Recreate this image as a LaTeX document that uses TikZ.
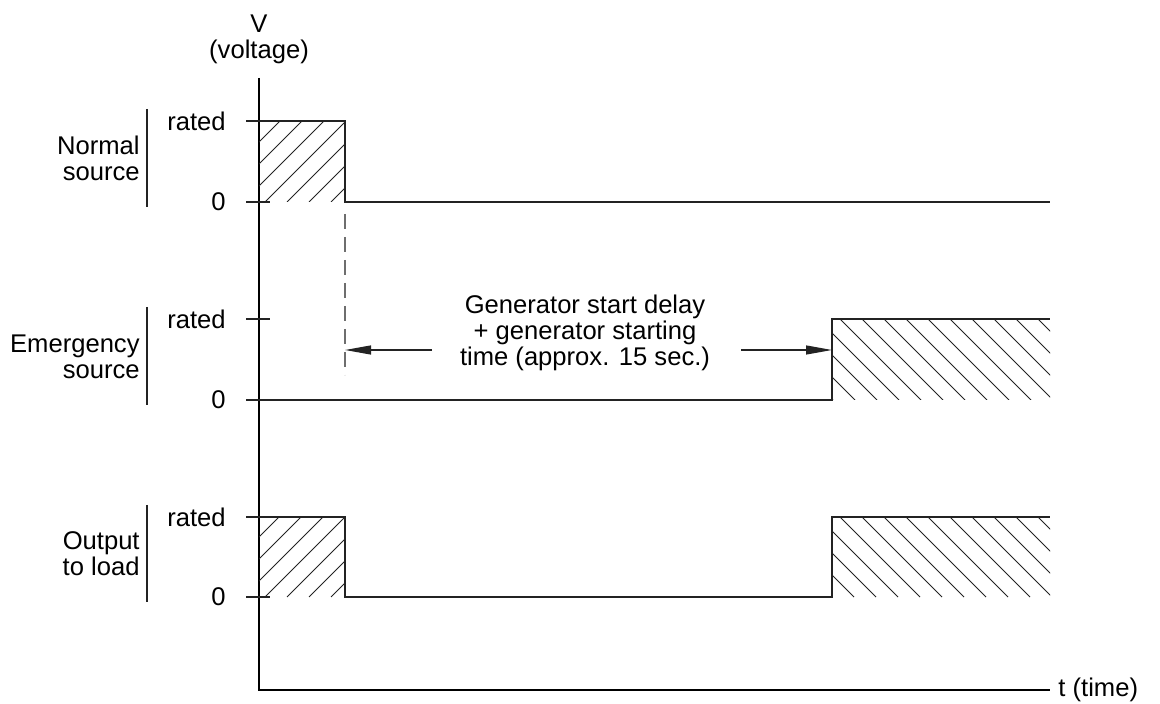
\documentclass[tikz,border=0pt]{standalone}
\usepackage{fontspec}
\setmainfont{Liberation Sans}
\usetikzlibrary{positioning,arrows.meta,calc}
\definecolor{tdLine}{RGB}{35,35,35}
\definecolor{tdDash}{RGB}{110,110,110}
\tikzset{
    base/.style={font=\fontsize{12.8}{13}\selectfont, align=center, inner sep=0pt},
    levellabel/.style={base, anchor=east},
    sourcelabel/.style={base, align=right, anchor=east},
    axis/.style={line width=0.6pt, color=black},
    signal/.style={line width=0.75pt, color=tdLine},
    hatch/.style={line width=0.45pt, color=tdLine},
    bracket/.style={line width=0.6pt, color=tdLine},
    guide/.style={line width=0.75pt, color=tdDash, dash pattern=on 7.5pt off 4pt},
    delay/.style={-{Triangle[length=13pt,width=4.5pt]}, line width=0.6pt, color=tdLine}
}

\begin{document}
\begin{tikzpicture}[x=0.5pt, y=-0.5pt, line cap=butt]
    \useasboundingbox (0,0) rectangle (1160,704);

    % Axes
    \coordinate (O) at (259,690);
    \coordinate (Vtop) at (259,78);
    \coordinate (Tend) at (1050,690);
    \draw[axis] (Vtop) -- (O) -- (Tend);
    \node[base] (vlabel) at (259,39) {V\\(voltage)};
    \node[base, anchor=west] (tlabel) at (1058,690) {t (time)};

    % Rows: labels, levels and brackets
    \foreach \row/\rated/\zero/\txt in {normal/121/202/{Normal\\source},
                                       emerg/319/400/{Emergency\\source},
                                       output/517/597/{Output\\to load}} {
        \node[levellabel] (\row-rated) at (226,\rated) {rated};
        \node[levellabel] (\row-zero) at (226,\zero) {0};
        \draw[bracket] (147,\rated-12) -- (147,\zero+5);
        \node[sourcelabel] (\row-name) at (140,{(\rated+\zero)/2-3}) {\txt};
        \draw[signal] (246,\rated) -- (270,\rated);
        \draw[signal] (246,\zero) -- (270,\zero);
    }

    % Normal source
    \draw[signal] (246,121) -- (345,121) -- (345,202) -- (1050,202);
    \begin{scope}
        \clip (259,121) rectangle (345,202);
        \foreach \k in {-3,...,3}
            \draw[hatch] (265+\k*22,202) -- ++(81,-81);
    \end{scope}

    % Emergency source
    \draw[signal] (259,400) -- (832,400) -- (832,319) -- (1050,319);
    \begin{scope}
        \clip (832,319) rectangle (1050,400);
        \foreach \k in {-4,...,9}
            \draw[hatch] (840+\k*22,319) -- ++(81,81);
    \end{scope}

    % Output to load
    \draw[signal] (246,517) -- (345,517) -- (345,597) -- (832,597) -- (832,517) -- (1050,517);
    \begin{scope}
        \clip (259,517) rectangle (345,597);
        \foreach \k in {-3,...,3}
            \draw[hatch] (265+\k*22,597) -- ++(80,-80);
    \end{scope}
    \begin{scope}
        \clip (832,517) rectangle (1050,597);
        \foreach \k in {-4,...,9}
            \draw[hatch] (840+\k*22,517) -- ++(80,80);
    \end{scope}

    % Generator delay
    \coordinate (guideTop) at (345,214);
    \coordinate (guideBot) at (345,375);
    \draw[guide] (guideTop) -- (guideBot);
    \node[base] (delaytxt) at (585,333) {Generator start delay\\+ generator starting\\time (approx. 15 sec.)};
    \coordinate (delayL) at (432,350);
    \coordinate (delayR) at (741,350);
    \coordinate (stopL) at (345,350);
    \coordinate (stopR) at (832,350);
    \draw[delay] (delayL) -- (stopL);
    \draw[delay] (delayR) -- (stopR);
\end{tikzpicture}
\end{document}
